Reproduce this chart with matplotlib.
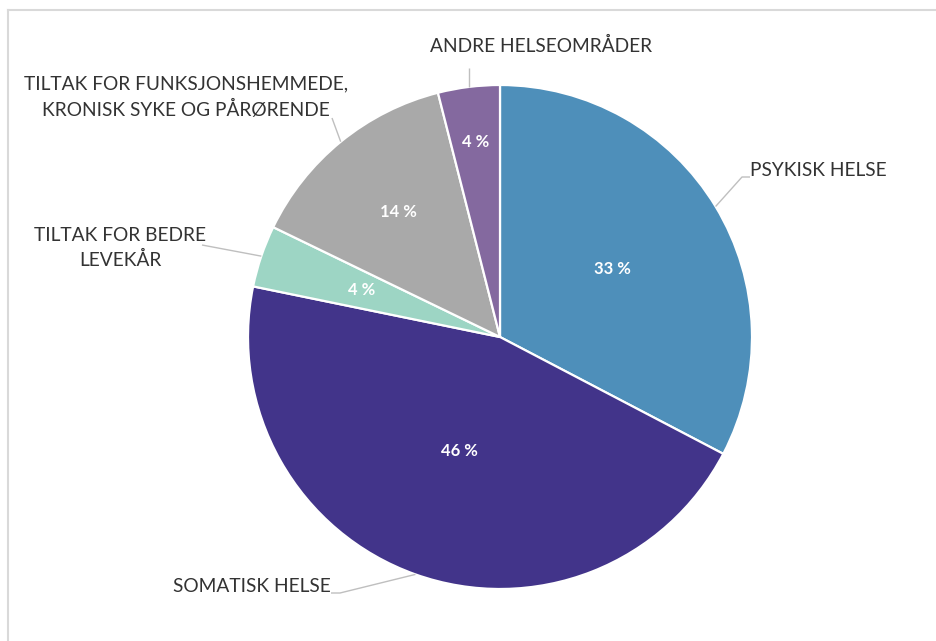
import matplotlib.pyplot as plt
from matplotlib.lines import Line2D
import numpy as np

# Fordeling av midler per helseområde (prosent)
categories = [
    "PSYKISK HELSE",
    "SOMATISK HELSE",
    "TILTAK FOR BEDRE\nLEVEKÅR",
    "TILTAK FOR FUNKSJONSHEMMEDE,\nKRONISK SYKE OG PÅRØRENDE",
    "ANDRE HELSEOMRÅDER",
]
values = [33, 46, 4, 14, 4]
colors = ["#4E8FBA", "#42348A", "#9DD5C4", "#A9A9A9", "#84699F"]

W, H = 936, 641
plt.rcParams['font.family'] = ['Lato', 'DejaVu Sans']

fig = plt.figure(figsize=(W / 100, H / 100), dpi=100)
ax = fig.add_axes([0, 0, 1, 1])

cx, cy, R = 500, H - 337, 252
wedges, _ = ax.pie(values, colors=colors, startangle=90, counterclock=False,
                   radius=R, center=(cx, cy),
                   wedgeprops=dict(edgecolor='white', linewidth=1.6))
ax.set_xlim(0, W)
ax.set_ylim(0, H)
ax.set_aspect('equal')
ax.axis('off')

# prosentetiketter inne i sektorene
pct_r = [0.52, 0.48, 0.58, 0.64, 0.78]
total = sum(values)
for w, v, r in zip(wedges, values, pct_r):
    mid = np.deg2rad((w.theta1 + w.theta2) / 2)
    ax.text(cx + r * R * np.cos(mid), cy + r * R * np.sin(mid),
            f"{round(v / total * 100)} %", color='white', fontsize=12,
            fontweight='bold', ha='center', va='center')

# kategorietiketter med ledelinjer (posisjoner i piksler fra toppen)
label_pos = [(750, 170, 'left'), (331, 587, 'right'), (120, 248, 'center'),
             (186, 97, 'center'), (541, 46, 'center')]
leader_end = [[(742, 177), (750, 177)], [(340, 593), (331, 593)],
              [(202, 245)], [(332, 118)], [(None, 68)]]
line_col = '#BFBFBF'
for w, lab, (tx, ty, ha), pts in zip(wedges, categories, label_pos, leader_end):
    mid = np.deg2rad((w.theta1 + w.theta2) / 2)
    ax_x, ax_y = cx + R * np.cos(mid), cy + R * np.sin(mid)
    xs, ys = [ax_x], [ax_y]
    for px, py in pts:
        xs.append(ax_x if px is None else px)
        ys.append(H - py)
    ax.plot(xs, ys, color=line_col, lw=1.0, solid_capstyle='butt')
    ax.text(tx, H - ty, lab, color='#333333', fontsize=13.8, ha=ha,
            va='center', multialignment='center', linespacing=1.45)

# ramme rundt diagramområdet
fig.add_artist(Line2D([8 / W, 1], [1 - 10 / H, 1 - 10 / H], color='#D9D9D9', lw=1.5))
fig.add_artist(Line2D([8 / W, 8 / W], [0, 1 - 10 / H], color='#D9D9D9', lw=1.5))

fig.savefig('out.png', dpi=100, facecolor='white')
